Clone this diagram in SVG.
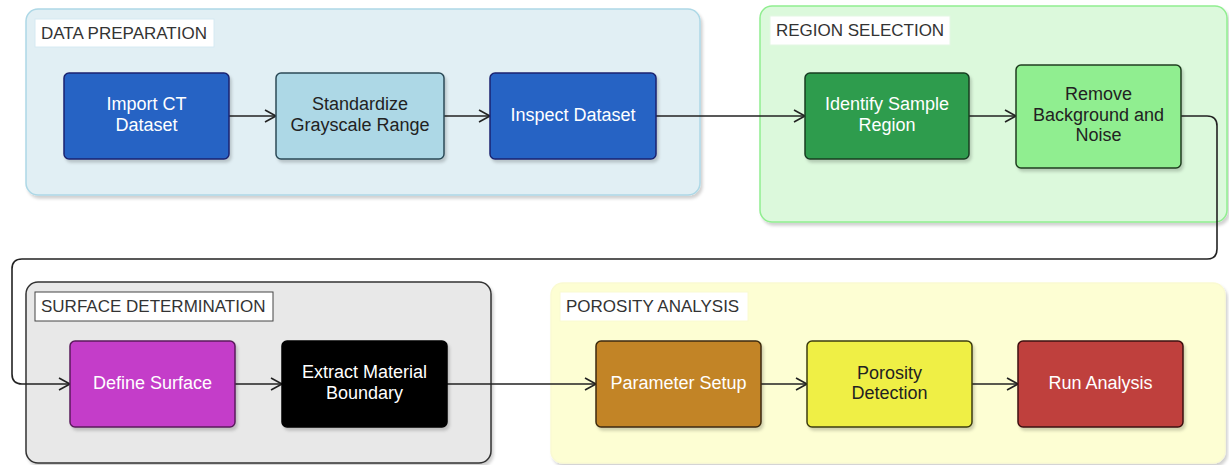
<svg xmlns="http://www.w3.org/2000/svg" width="1229" height="465" viewBox="0 0 1229 465">
<style>
.t{font-family:"Liberation Sans",Arial,sans-serif;font-size:18px;text-anchor:middle;dominant-baseline:central}
.w{fill:#ffffff}.k{fill:#222222}
.lbl{font-family:"Liberation Sans",Arial,sans-serif;font-size:17px;fill:#333333;dominant-baseline:central}
.edge{fill:none;stroke:#222222;stroke-width:1.6}
.nd{stroke-width:1.5}
</style>
<defs>
<marker id="ah" markerWidth="14" markerHeight="14" refX="12" refY="7" orient="auto" markerUnits="userSpaceOnUse">
<path d="M1,1 L12,7 L1,13" fill="none" stroke="#222222" stroke-width="1.6"/>
</marker>
<filter id="sh" x="-10%" y="-10%" width="120%" height="130%">
<feDropShadow dx="2" dy="3" stdDeviation="1.5" flood-color="#000000" flood-opacity="0.18"/>
</filter>
</defs>

<g id="cluster-data-preparation">
<rect x="26" y="9" width="674" height="186" rx="12" fill="#e1eff4" stroke="#add8e6" stroke-width="1.5" filter="url(#sh)"/>
<rect x="35" y="19" width="179" height="28" fill="#ffffff" stroke="#d6eaf2" stroke-width="1"/>
<text class="lbl" x="41" y="33">DATA PREPARATION</text>
</g>
<g id="cluster-region-selection">
<rect x="760" y="6" width="467" height="216" rx="12" fill="#dcf9dc" stroke="#90ee90" stroke-width="1.5" filter="url(#sh)"/>
<rect x="770" y="16" width="180" height="29" fill="#ffffff" stroke="#e3f7e3" stroke-width="1"/>
<text class="lbl" x="776" y="30.5">REGION SELECTION</text>
</g>
<g id="cluster-surface-determination">
<rect x="26" y="282" width="465" height="181" rx="12" fill="#e8e8e8" stroke="#333333" stroke-width="1.5" filter="url(#sh)"/>
<rect x="35" y="292" width="238" height="29" fill="#ffffff" stroke="#444444" stroke-width="1"/>
<text class="lbl" x="41" y="306.5">SURFACE DETERMINATION</text>
</g>
<g id="cluster-porosity-analysis">
<rect x="551" y="283" width="674" height="180" rx="12" fill="#fdfed3" stroke="#fafad2" stroke-width="1.5" filter="url(#sh)"/>
<rect x="560" y="292" width="188" height="29" fill="#ffffff" stroke="#fafad2" stroke-width="1"/>
<text class="lbl" x="566" y="306.5">POROSITY ANALYSIS</text>
</g>

<g id="connectors">
<path class="edge" d="M229,116 H276" marker-end="url(#ah)"/>
<path class="edge" d="M444,116 H490" marker-end="url(#ah)"/>
<path class="edge" d="M656,116 H805" marker-end="url(#ah)"/>
<path class="edge" d="M969,116 H1016" marker-end="url(#ah)"/>
<path class="edge" d="M1181,116 H1207 Q1217,116 1217,126 V249 Q1217,259 1207,259 H22 Q12,259 12,269 V374 Q12,384 22,384 H70" marker-end="url(#ah)"/>
<path class="edge" d="M235,384 H282" marker-end="url(#ah)"/>
<path class="edge" d="M447,384 H596" marker-end="url(#ah)"/>
<path class="edge" d="M761,384 H807" marker-end="url(#ah)"/>
<path class="edge" d="M972,384 H1018" marker-end="url(#ah)"/>
</g>

<g id="node-import-ct">
<rect class="nd" x="64" y="73" width="165" height="86" rx="5" fill="#2864c4" stroke="#1a2370" filter="url(#sh)"/>
<text class="t w" x="146.5" y="104">Import CT</text>
<text class="t w" x="146.5" y="125">Dataset</text>
</g>
<g id="node-standardize">
<rect class="nd" x="276" y="73" width="168" height="86" rx="5" fill="#add8e6" stroke="#2b4a57" filter="url(#sh)"/>
<text class="t k" x="360" y="104">Standardize</text>
<text class="t k" x="360" y="125">Grayscale Range</text>
</g>
<g id="node-inspect">
<rect class="nd" x="490" y="73" width="166" height="86" rx="5" fill="#2864c4" stroke="#1a2370" filter="url(#sh)"/>
<text class="t w" x="573" y="115">Inspect Dataset</text>
</g>
<g id="node-identify">
<rect class="nd" x="805" y="73" width="164" height="86" rx="5" fill="#2f9c4e" stroke="#173d22" filter="url(#sh)"/>
<text class="t w" x="887" y="104">Identify Sample</text>
<text class="t w" x="887" y="125">Region</text>
</g>
<g id="node-remove">
<rect class="nd" x="1016" y="65" width="165" height="103" rx="5" fill="#90ee90" stroke="#1f3d1f" filter="url(#sh)"/>
<text class="t k" x="1098.5" y="94">Remove</text>
<text class="t k" x="1098.5" y="115">Background and</text>
<text class="t k" x="1098.5" y="135">Noise</text>
</g>
<g id="node-define-surface">
<rect class="nd" x="70" y="341" width="165" height="86" rx="5" fill="#c43cc9" stroke="#5a1a5c" filter="url(#sh)"/>
<text class="t w" x="152.5" y="383">Define Surface</text>
</g>
<g id="node-extract">
<rect class="nd" x="282" y="341" width="165" height="86" rx="5" fill="#000000" stroke="#000000" filter="url(#sh)"/>
<text class="t w" x="364.5" y="372">Extract Material</text>
<text class="t w" x="364.5" y="393">Boundary</text>
</g>
<g id="node-parameter-setup">
<rect class="nd" x="596" y="341" width="165" height="86" rx="5" fill="#c28426" stroke="#3d2a0c" filter="url(#sh)"/>
<text class="t w" x="678.5" y="383">Parameter Setup</text>
</g>
<g id="node-porosity-detection">
<rect class="nd" x="807" y="341" width="165" height="86" rx="5" fill="#efef45" stroke="#3d3d10" filter="url(#sh)"/>
<text class="t k" x="889.5" y="373">Porosity</text>
<text class="t k" x="889.5" y="393">Detection</text>
</g>
<g id="node-run-analysis">
<rect class="nd" x="1018" y="341" width="165" height="86" rx="5" fill="#bf3f3c" stroke="#3d1010" filter="url(#sh)"/>
<text class="t w" x="1100.5" y="383">Run Analysis</text>
</g>
</svg>
